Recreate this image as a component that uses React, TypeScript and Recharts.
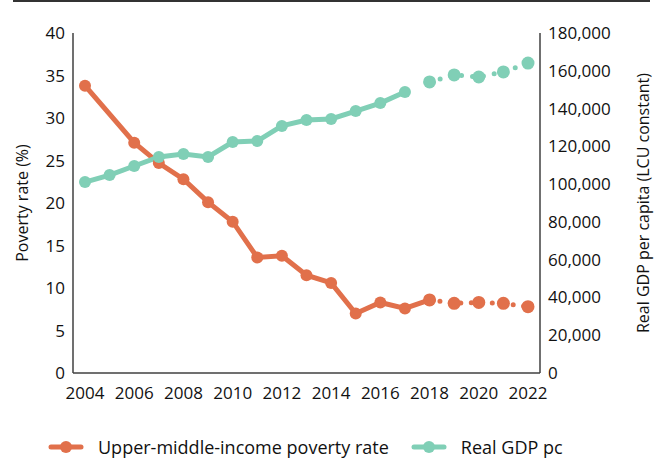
import { LineChart, Line, XAxis, YAxis, Legend, Label } from 'recharts';

const years = [2004, 2005, 2006, 2007, 2008, 2009, 2010, 2011, 2012, 2013, 2014, 2015, 2016, 2017, 2018, 2019, 2020, 2021, 2022];
// 2005 has no poverty estimate
const povertyRate = [33.8, null, 27.1, 24.7, 22.8, 20.1, 17.8, 13.6, 13.8, 11.5, 10.6, 7.0, 8.3, 7.6, 8.6, 8.2, 8.3, 8.2, 7.8];
const gdpPc = [101100, 104800, 109600, 114400, 115900, 114400, 122300, 122800, 130800, 133900, 134500, 138700, 142900, 148800, 154100, 157800, 156700, 159400, 164100];
const povertyLastActual = 2018;
const gdpLastActual = 2017;
const povertyTicks = [0, 5, 10, 15, 20, 25, 30, 35, 40];
const gdpTicks = [0, 20000, 40000, 60000, 80000, 100000, 120000, 140000, 160000, 180000];

const ORANGE = '#E1704B';
const TEAL = '#80CFB6';
const AXIS = '#404040';
const FONT = '"Open Sans", sans-serif';

const rows = years.map((year, i) => ({
  year,
  poverty: year <= povertyLastActual ? povertyRate[i] : null,
  povertyProj: year >= povertyLastActual ? povertyRate[i] : null,
  gdp: year <= gdpLastActual ? gdpPc[i] : null,
  gdpProj: year > gdpLastActual ? gdpPc[i] : null,
}));

const legendItems = [
  { label: 'Upper-middle-income poverty rate', color: ORANGE },
  { label: 'Real GDP pc', color: TEAL },
];

function LegendBox() {
  return (
    <div style={{ display: 'flex', alignItems: 'center', paddingLeft: 48, fontFamily: FONT, fontSize: 18, color: '#111' }}>
      {legendItems.map((it, i) => (
        <div key={it.label} style={{ display: 'flex', alignItems: 'center', marginRight: i === 0 ? 22 : 0 }}>
          <svg width={36} height={14} style={{ marginRight: 14 }}>
            <line x1={3} y1={7} x2={33} y2={7} stroke={it.color} strokeWidth={5} strokeLinecap="round" />
            <circle cx={18} cy={7} r={6} fill={it.color} />
          </svg>
          <span>{it.label}</span>
        </div>
      ))}
    </div>
  );
}

const fmt = (v: number) => v.toLocaleString('en-US');

export default function App() {
  return (
    <div style={{ position: 'fixed', left: 0, top: 0, width: 660, height: 460, background: '#fff' }}>
      <div style={{ position: 'absolute', left: 13, top: 0, width: 637, height: 2, background: '#333' }} />
      <LineChart width={660} height={460} data={rows} margin={{ top: 33, right: 0, left: 0, bottom: 0 }}>
        <XAxis
          dataKey="year"
          padding={{ left: 12, right: 12 }}
          interval={1}
          tickLine={false}
          tickMargin={8}
          height={87}
          stroke={AXIS}
          strokeWidth={1.5}
          tick={{ fill: '#111', fontSize: 17, fontFamily: FONT }}
        />
        <YAxis
          yAxisId="left"
          width={73}
          domain={[0, 40]}
          ticks={povertyTicks}
          tickLine={false}
          stroke={AXIS}
          strokeWidth={1.5}
          tick={{ fill: '#111', fontSize: 17, fontFamily: FONT }}
        >
          <Label value="Poverty  rate (%)" angle={-90} position="center" dx={-14} style={{ fill: '#111', fontSize: 16, fontFamily: FONT }} />
        </YAxis>
        <YAxis
          yAxisId="right"
          orientation="right"
          width={120}
          domain={[0, 180000]}
          ticks={gdpTicks}
          tickFormatter={fmt}
          tickLine={false}
          stroke={AXIS}
          strokeWidth={1.5}
          tick={{ fill: '#111', fontSize: 17, fontFamily: FONT }}
        >
          <Label value="Real GDP  per capita (LCU constant)" angle={-90} position="center" dx={43} style={{ fill: '#111', fontSize: 16, fontFamily: FONT }} />
        </YAxis>
        <Legend verticalAlign="middle" align="center" wrapperStyle={{ top: 435, left: 0, width: 660 }} content={() => <LegendBox />} />
        <Line yAxisId="left" dataKey="povertyProj" stroke={ORANGE} strokeWidth={5} strokeDasharray="0 10.5" strokeLinecap="round" dot={{ r: 6.5, fill: ORANGE, stroke: 'none' }} activeDot={false} isAnimationActive={false} legendType="none" />
        <Line yAxisId="left" dataKey="poverty" connectNulls stroke={ORANGE} strokeWidth={5} dot={{ r: 6, fill: ORANGE, stroke: 'none' }} activeDot={false} isAnimationActive={false} />
        <Line yAxisId="right" dataKey="gdpProj" stroke={TEAL} strokeWidth={5} strokeDasharray="0 11" strokeLinecap="round" dot={{ r: 6.5, fill: TEAL, stroke: 'none' }} activeDot={false} isAnimationActive={false} legendType="none" />
        <Line yAxisId="right" dataKey="gdp" stroke={TEAL} strokeWidth={5} dot={{ r: 6, fill: TEAL, stroke: 'none' }} activeDot={false} isAnimationActive={false} />
      </LineChart>
    </div>
  );
}
